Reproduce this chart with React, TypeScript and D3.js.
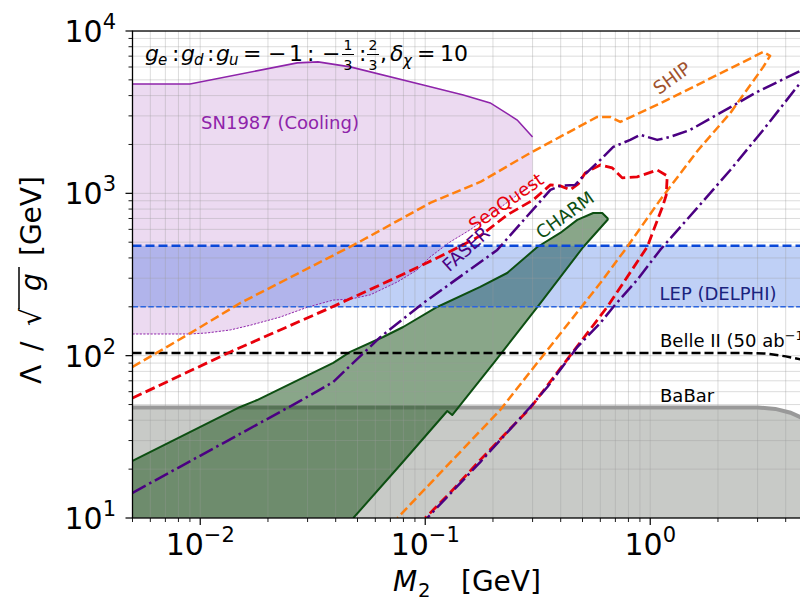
import React from "react";
import * as d3 from "d3";

// ---------- axis domains & ticks ----------
const massDomain = [0.005, 5];
const lambdaDomain = [10, 10000];
const xMajor = [0.01, 0.1, 1];
const xMajorExp = ["−2", "−1", "0"];
const yMajor = [10, 100, 1000, 10000];
const yMajorExp = ["1", "2", "3", "4"];

// ---------- SN1987 (cooling) ----------
const snUpperM = [0.005, 0.009, 0.027, 0.0334, 0.0464, 0.098, 0.1476, 0.1945, 0.2564, 0.3];
const snUpperL = [4720, 4720, 6360, 6450, 6010, 4655, 4040, 3605, 2830, 2224];
const snLowerM = [0.005, 0.009, 0.0107, 0.0136, 0.0167, 0.0227, 0.03, 0.039, 0.0464, 0.057, 0.075, 0.092, 0.105, 0.129, 0.158, 0.17, 0.3];
const snLowerL = [136, 136, 138, 144, 154, 173, 199, 220, 223, 237, 284, 337, 405, 502, 595, 639, 1150];

// ---------- LEP (DELPHI) band ----------
const lepLow = 200;
const lepHigh = 475;

// ---------- Belle II (50 ab^-1) ----------
const belleM = [0.005, 2.5, 3.3, 4.0, 5];
const belleL = [104, 104, 103, 99, 93];

// ---------- BaBar ----------
const babarM = [0.005, 3.0, 3.6, 4.2, 5];
const babarL = [48, 48, 47, 44.5, 40];

// ---------- CHARM ----------
const charmUpperM = [0.005, 0.01506, 0.0179, 0.039, 0.0464, 0.065, 0.0798, 0.113, 0.1755, 0.2313, 0.315, 0.398, 0.474, 0.558, 0.612, 0.651];
const charmUpperL = [22.5, 48.3, 53.3, 90.2, 105.4, 130.3, 150.2, 199.5, 265, 323, 467, 570, 686, 757, 757, 695];
const charmLowerM = [0.651, 0.504, 0.325, 0.205, 0.1318, 0.1253, 0.0774, 0.0479];
const charmLowerL = [695, 467, 211, 92.8, 43.1, 45.6, 21.2, 10];

// ---------- SHIP ----------
const shipUpperM = [0.005, 0.00875, 0.01506, 0.0499, 0.1052, 0.1756, 0.293, 0.581, 0.664, 0.736, 1.142, 3.18, 3.41];
const shipUpperL = [85.2, 134, 211, 494, 873, 1175, 1774, 2957, 2957, 2755, 3656, 7430, 7030];
const shipLowerM = [3.41, 3.18, 2.27, 1.634, 1.107, 0.79, 0.6, 0.341, 0.2154, 0.0752];
const shipLowerL = [7030, 6010, 3127, 1850, 911, 468, 280, 104, 46.3, 10];

// ---------- SeaQuest ----------
const seaUpperM = [0.005, 0.0136, 0.0378, 0.0751, 0.1253, 0.1756, 0.2313, 0.302, 0.36, 0.398, 0.441, 0.479, 0.514, 0.6, 0.678, 0.751, 0.875, 1.074, 1.19];
const seaUpperL = [54.8, 105.4, 197, 305, 429, 547, 736, 911, 1127, 1111, 1050, 1143, 1336, 1497, 1435, 1245, 1263, 1393, 1280];
const seaLowerM = [1.19, 1.178, 1.142, 0.97, 0.644, 0.45, 0.293, 0.1756, 0.129, 0.1];
const seaLowerL = [1280, 977, 849, 468, 199.5, 104, 47.6, 22.8, 14.3, 10];

// ---------- FASER ----------
const faserUpperM = [0.005, 0.0278, 0.039, 0.0631, 0.098, 0.129, 0.209, 0.36, 0.398, 0.464, 0.504, 0.6, 0.685, 0.815, 0.903, 0.97, 1.074, 1.227, 1.506, 2.047, 2.99, 4.64, 5];
const faserUpperL = [14.3, 52.6, 68.9, 130, 211, 277, 448, 1050, 1111, 1127, 1280, 1606, 1932, 2134, 2291, 2228, 2134, 2228, 2460, 3128, 4215, 5675, 5970];
const faserLowerM = [5, 4.64, 3.18, 2.27, 1.618, 1.107, 0.875, 0.685, 0.6, 0.474, 0.349, 0.293, 0.1756, 0.102];
const faserLowerL = [5445, 4790, 2460, 1393, 813, 448, 293, 199.5, 159, 113, 64.1, 48.3, 22.1, 10];

const FONT = "'DejaVu Sans', sans-serif";

type P = [number, number];

export default function App() {
  const left = 132.5, right = 807.5, top = 31, bottom = 518;
  const x = d3.scaleLog().domain(massDomain).range([left, right]);
  const y = d3.scaleLog().domain(lambdaDomain).range([bottom, top]);
  const pts = (ms: number[], ls: number[]): P[] => ms.map((m, i) => [x(m), y(ls[i])] as P);
  const lg = d3.line<P>();
  const path = (p: P[]) => lg(p) as string;

  const snUp = pts(snUpperM, snUpperL);
  const snLow = pts(snLowerM, snLowerL);
  const snFill = path([...snUp, ...snLow.slice().reverse()]) + "Z";

  const babar = pts(babarM, babarL);
  const babarFill = path([...babar, [x(5), y(10)], [x(0.005), y(10)]]) + "Z";

  const charmUp = pts(charmUpperM, charmUpperL);
  const charmLow = pts(charmLowerM, charmLowerL);
  const charmFill = path([...charmUp, ...charmLow, [x(0.005), y(10)]]) + "Z";

  const ship = path([...pts(shipUpperM, shipUpperL), ...pts(shipLowerM, shipLowerL)]);
  const sea = path([...pts(seaUpperM, seaUpperL), ...pts(seaLowerM, seaLowerL)]);
  const faser = path([...pts(faserUpperM, faserUpperL), ...pts(faserLowerM, faserLowerL)]);
  const belle = path(pts(belleM, belleL));

  const xTicks = x.ticks();
  const yTicks = y.ticks();
  const isMajor = (v: number) => Math.abs(Math.log10(v) - Math.round(Math.log10(v))) < 1e-6;

  const rot = (cx: number, cy: number, a: number) => `translate(${cx},${cy}) rotate(${a})`;

  return (
    <svg width={800} height={599} style={{ position: "absolute", left: 0, top: 0, background: "#fff" }} fontFamily={FONT}>
      <defs>
        <clipPath id="plotclip">
          <rect x={left} y={top} width={right - left} height={bottom - top} />
        </clipPath>
      </defs>
      <rect x={0} y={0} width={800} height={599} fill="#fff" />
      <g clipPath="url(#plotclip)">
        {/* SN1987 fill */}
        <path d={snFill} fill="#8e24aa" fillOpacity={0.17} stroke="none" />
        {/* BaBar */}
        <path d={babarFill} fill="#c8cac7" stroke="none" />
        <path d={path(babar)} fill="none" stroke="#999999" strokeWidth={4} />
        {/* CHARM */}
        <path d={charmFill} fill="rgb(20,78,20)" fillOpacity={0.5} stroke="none" />
        {/* LEP band */}
        <rect x={left} y={y(lepHigh)} width={right - left} height={y(lepLow) - y(lepHigh)} fill="#0044dd" fillOpacity={0.25} />
        {/* grid */}
        {xTicks.map((v, i) => (
          <line key={"gx" + i} x1={x(v)} x2={x(v)} y1={top} y2={bottom} stroke="#9a9a9a" strokeOpacity={0.35} strokeWidth={1} />
        ))}
        {yTicks.map((v, i) => (
          <line key={"gy" + i} x1={left} x2={right} y1={y(v)} y2={y(v)} stroke="#9a9a9a" strokeOpacity={0.35} strokeWidth={1} />
        ))}
        {/* SN1987 boundaries */}
        <path d={path(snUp)} fill="none" stroke="#8e24aa" strokeWidth={1.6} />
        <path d={path(snLow)} fill="none" stroke="#8e24aa" strokeWidth={1} strokeDasharray="2.2,1.4" />
        {/* CHARM boundaries */}
        <path d={path(charmUp)} fill="none" stroke="#0d4f12" strokeWidth={2} strokeLinejoin="round" />
        <path d={path(charmLow)} fill="none" stroke="#0d4f12" strokeWidth={2} strokeLinejoin="round" />
        {/* LEP lines */}
        <line x1={left} x2={right} y1={y(lepHigh)} y2={y(lepHigh)} stroke="#0a48d8" strokeWidth={2.5} strokeDasharray="9,4" />
        <line x1={left} x2={right} y1={y(lepLow)} y2={y(lepLow)} stroke="#2a64e0" strokeWidth={1.5} strokeDasharray="5.5,2.4" />
        {/* Belle II */}
        <path d={belle} fill="none" stroke="#000" strokeWidth={2.5} strokeDasharray="9,4" />
        {/* projections */}
        <path d={ship} fill="none" stroke="#ff7f0e" strokeWidth={2.5} strokeDasharray="9,4" strokeLinejoin="round" />
        <path d={sea} fill="none" stroke="#e8000b" strokeWidth={2.8} strokeDasharray="10,4.5" strokeLinejoin="round" />
        <path d={faser} fill="none" stroke="#4b0082" strokeWidth={2.5} strokeDasharray="15,4,2.5,4" strokeLinejoin="round" />
      </g>

      {/* frame */}
      <rect x={left} y={top} width={right - left} height={bottom - top} fill="none" stroke="#000" strokeWidth={1.3} />

      {/* ticks */}
      {xTicks.map((v, i) => (
        <line key={"tx" + i} x1={x(v)} x2={x(v)} y1={bottom} y2={bottom + (isMajor(v) ? 7 : 4)} stroke="#000" strokeWidth={isMajor(v) ? 1.2 : 0.9} />
      ))}
      {yTicks.map((v, i) => (
        <line key={"ty" + i} x1={left} x2={left - (isMajor(v) ? 7 : 4)} y1={y(v)} y2={y(v)} stroke="#000" strokeWidth={isMajor(v) ? 1.2 : 0.9} />
      ))}
      {xMajor.map((v, i) => (
        <text key={"lx" + i} x={x(v)} y={555} fontSize={30} textAnchor="middle" fill="#000">
          10<tspan dy={-13} fontSize={21}>{xMajorExp[i]}</tspan>
        </text>
      ))}
      {yMajor.map((v, i) => (
        <text key={"ly" + i} x={116} y={y(v) + 11} fontSize={30} textAnchor="end" fill="#000">
          10<tspan dy={-13} fontSize={21}>{yMajorExp[i]}</tspan>
        </text>
      ))}

      {/* axis labels */}
      <g transform="translate(41,384) rotate(-90)" fontSize={28} fill="#000">
        <text x={0} y={0}>Λ</text>
        <text x={33} y={0}>/</text>
        <text x={58} y={0}>√</text>
        <line x1={75} x2={117} y1={-22} y2={-22} stroke="#000" strokeWidth={1.5} />
        <text x={93} y={0} fontStyle="italic">g</text>
        <text x={128} y={0}>[GeV]</text>
      </g>
      <g fontSize={28} fill="#000">
        <text x={393} y={591} fontStyle="italic">M</text>
        <text x={418} y={597} fontSize={19.6}>2</text>
        <text x={461} y={591}>[GeV]</text>
      </g>

      {/* title annotation */}
      <g fill="#000" fontSize={22}>
        <text x={145} y={61} fontStyle="italic">g</text>
        <text x={158} y={65} fontSize={15} fontStyle="italic">e</text>
        <text x={172} y={61}>:</text>
        <text x={181} y={61} fontStyle="italic">g</text>
        <text x={194} y={65} fontSize={15} fontStyle="italic">d</text>
        <text x={207} y={61}>:</text>
        <text x={216} y={61} fontStyle="italic">g</text>
        <text x={229} y={65} fontSize={15} fontStyle="italic">u</text>
        <text x={243} y={61}>=</text>
        <text x={268} y={61}>−</text>
        <text x={289} y={61}>1</text>
        <text x={307} y={61}>:</text>
        <text x={322} y={61}>−</text>
        <text x={348} y={50} fontSize={14} textAnchor="middle">1</text>
        <line x1={342} x2={354} y1={54.5} y2={54.5} stroke="#000" strokeWidth={1} />
        <text x={348} y={70} fontSize={14} textAnchor="middle">3</text>
        <text x={359} y={61}>:</text>
        <text x={373} y={50} fontSize={14} textAnchor="middle">2</text>
        <line x1={367} x2={379} y1={54.5} y2={54.5} stroke="#000" strokeWidth={1} />
        <text x={373} y={70} fontSize={14} textAnchor="middle">3</text>
        <text x={380} y={61}>,</text>
        <text x={390} y={61} fontStyle="italic">δ</text>
        <text x={403} y={66} fontSize={15} fontStyle="italic">χ</text>
        <text x={417} y={61}>=</text>
        <text x={440} y={61}>10</text>
      </g>

      {/* region labels */}
      <g fontSize={18}>
        <text x={280} y={129} textAnchor="middle" fill="#8e24aa">SN1987 (Cooling)</text>
        <text x={718} y={300} textAnchor="middle" fill="#1a237e">LEP (DELPHI)</text>
        <text x={660} y={347} fill="#000">Belle II (50 ab<tspan dy={-7} fontSize={13}>−1</tspan><tspan dy={7}>)</tspan></text>
        <text x={660} y={402} fill="#000">BaBar</text>
        <text transform={rot(672, 78, -36)} textAnchor="middle" dy="0.35em" fill="#a0522d">SHIP</text>
        <text transform={rot(506, 202, -35)} textAnchor="middle" dy="0.35em" fill="#e8000b">SeaQuest</text>
        <text transform={rot(466, 249, -42)} textAnchor="middle" dy="0.35em" fill="#4b0082">FASER</text>
        <text transform={rot(565, 215, -36)} textAnchor="middle" dy="0.35em" fill="#0d4f12">CHARM</text>
      </g>
    </svg>
  );
}
